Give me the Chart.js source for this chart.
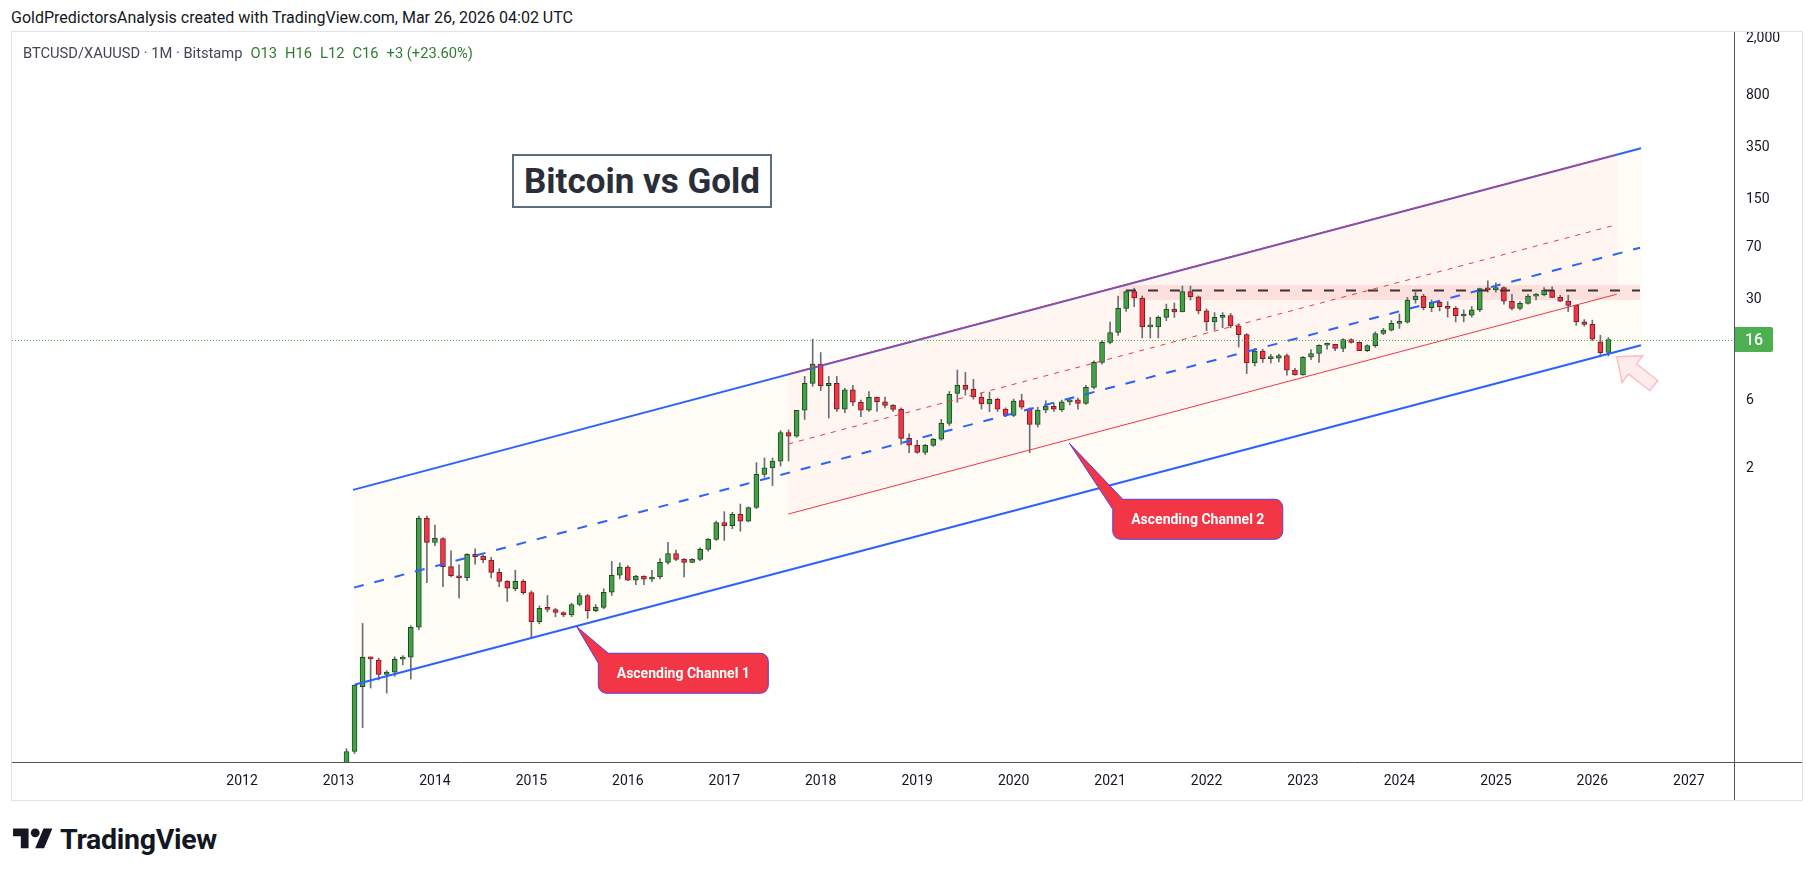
<!DOCTYPE html>
<html>
<head>
<meta charset="utf-8">
<title>Bitcoin vs Gold</title>
<script src="https://cdn.jsdelivr.net/npm/chart.js@4.4.1/dist/chart.umd.min.js"></script>
<style>
  html, body { margin:0; padding:0; background:#ffffff; }
  body { width:1814px; height:877px; position:relative; overflow:hidden; font-family: Roboto, "Liberation Sans", Arial, sans-serif; color:#131722; }
  #hdr { position:absolute; left:11px; top:7px; font-size:16px; line-height:22px; color:#131722; white-space:nowrap; }
  #frame { position:absolute; left:11px; top:31px; width:1792px; height:770px; box-sizing:border-box; border:1px solid #e0e3eb; }
  #wrap { position:absolute; left:12px; top:32px; width:1790px; height:768px; }
  #legend { position:absolute; left:23px; top:43px; font-size:14.7px; line-height:20px; white-space:nowrap; color:#434651; }
  #legend .v { color:#2e7d32; margin-left:8px; }
  #title { position:absolute; left:512px; top:154px; width:260px; height:54px; box-sizing:border-box; border:2px solid #5d6d7e; background:#fff; display:flex; align-items:center; justify-content:center; font-weight:bold; font-size:35px; color:#2a2e39; font-family: Roboto, "Liberation Sans", sans-serif; }
  #logo { position:absolute; left:13px; top:823px; height:32px; display:flex; align-items:center; }
  #logo span { font-weight:bold; font-size:28.5px; color:#131722; margin-left:7px; letter-spacing:-0.3px; }
</style>
</head>
<body>
<div id="hdr">GoldPredictorsAnalysis created with TradingView.com, Mar 26, 2026 04:02 UTC</div>
<div id="frame"></div>
<div id="wrap"><canvas id="c"></canvas></div>
<div id="legend"></div>
<div id="title">Bitcoin vs Gold</div>
<div id="logo"><svg width="40" height="31" viewBox="0 0 36 28"><path d="M14 22H7V11H0V4h14v18zM28 22h-8l7.5-18h8L28 22z" fill="#131722"/><circle cx="20" cy="8" r="4" fill="#131722"/></svg><span>TradingView</span></div>
<script>
// ---- Monthly BTCUSD/XAUUSD candles, Feb 2013 .. Mar 2026 ----
const firstMonth = '2013-02';
const open = [
  0.0129,0.0212,0.060,0.0964,0.0923,0.0733,0.0759,0.0933,0.0965,0.156,0.90,             // 2013
  0.611,0.65,0.413,0.357,0.345,0.504,0.49,0.46,0.377,0.326,0.29,0.326,                  // 2014
  0.272,0.171,0.212,0.207,0.198,0.19,0.225,0.26,0.204,0.215,0.274,0.36,                 // 2015
  0.41,0.332,0.355,0.338,0.35,0.443,0.51,0.465,0.443,0.465,0.546,0.641,                 // 2016
  0.84,0.80,0.96,0.86,1.07,1.82,2.02,2.25,3.56,3.37,5.1,7.85,                           // 2017
  10.7,7.56,7.85,5.2,7.07,5.8,5.1,6.27,5.85,5.52,5.18,3.25,                             // 2018
  2.90,2.59,2.90,3.2,4.13,6.69,7.61,7.13,6.28,5.64,6.08,5.2,                            // 2019
  4.70,5.95,5.2,4.06,5.12,5.44,5.12,5.83,6.02,5.70,7.37,11.0,                           // 2020
  15.2,17.8,26.2,34.3,31.0,19.5,19.5,22.7,25.8,24.8,34.3,31.6,                          // 2021
  25.2,21.1,22.7,23.4,19.8,17.2,10.9,13.2,11.7,11.8,12.3,9.73,                          // 2022
  9.0,11.95,12.7,14.5,14.7,13.8,15.9,15.2,13.3,14.4,17.5,18.5,                          // 2023
  20.6,21.0,30.0,32.0,26.5,28.9,27.0,26.2,23.2,23.5,25.6,36.1,                          // 2024
  35.3,36.6,29.4,26.2,28.4,31.9,32.6,35.2,31.3,29.5,27.5,21.1,                          // 2025
  20.3,15.3,12.9                                                                         // 2026
];
const high = [
  0.0222,0.062,0.166,0.097,0.095,0.0776,0.097,0.099,0.16,0.933,0.93,
  0.807,0.66,0.534,0.425,0.51,0.55,0.50,0.48,0.40,0.33,0.39,0.335,
  0.28,0.22,0.26,0.212,0.20,0.23,0.27,0.265,0.225,0.29,0.45,0.44,
  0.42,0.36,0.356,0.39,0.47,0.61,0.54,0.47,0.47,0.56,0.65,0.86,
  1.0,0.99,1.13,1.08,2.2,2.37,2.37,3.68,3.72,5.1,8.8,16.0,
  12.9,8.8,8.8,7.3,7.6,6.0,6.9,6.3,6.3,5.6,5.3,3.5,
  3.15,2.95,3.25,4.41,6.9,9.73,9.37,8.39,6.7,6.83,6.2,5.3,
  6.1,6.6,5.3,5.36,5.95,5.7,6.0,6.2,6.2,7.6,11.3,15.6,
  21.0,32.0,34.8,36.3,32.0,22.7,23.2,28.1,28.6,37.5,37.5,32.0,
  26.0,24.5,24.5,24.2,20.5,17.5,13.8,13.6,12.5,12.6,12.6,10.0,
  12.1,13.5,14.6,15.0,14.7,16.1,16.1,15.3,14.6,18.0,19.0,21.6,
  24.0,31.3,34.0,32.9,30.0,29.7,29.2,27.0,25.6,27.0,36.3,40.8,
  39.5,37.1,32.9,29.2,32.8,33.4,36.6,37.1,32.4,32.4,27.6,21.9,
  21.7,17.0,16.4
];
const low = [
  0.0125,0.0205,0.0311,0.0588,0.0669,0.0542,0.071,0.0853,0.068,0.15,0.319,
  0.58,0.30,0.35,0.25,0.33,0.43,0.44,0.345,0.30,0.236,0.28,0.265,
  0.131,0.165,0.20,0.185,0.185,0.185,0.22,0.18,0.20,0.21,0.26,0.34,
  0.33,0.31,0.31,0.325,0.34,0.43,0.455,0.35,0.44,0.455,0.53,0.63,
  0.63,0.76,0.73,0.85,1.05,1.74,1.52,2.08,2.26,3.3,4.4,7.5,
  7.0,4.5,5.0,4.9,5.5,4.6,5.0,5.0,5.3,5.0,2.95,2.58,
  2.55,2.5,2.85,3.15,4.0,5.8,6.5,6.1,5.2,4.99,5.0,4.6,
  4.6,5.2,2.58,3.9,4.9,5.0,5.0,5.55,5.2,5.6,7.2,10.7,
  14.8,17.0,25.0,27.0,16.3,16.3,16.3,21.5,22.7,24.8,30.0,24.0,
  18.3,18.5,19.2,19.2,14.1,9.2,10.4,11.0,10.9,11.1,8.97,8.97,
  8.97,11.5,11.0,13.6,13.3,13.1,15.0,13.3,13.1,14.0,17.2,18.2,
  19.0,20.7,28.5,25.6,24.9,25.2,22.8,21.1,21.1,22.8,24.9,34.0,
  34.0,28.0,25.6,25.6,28.0,30.0,32.0,31.2,29.2,24.9,20.0,19.7,
  15.6,12.3,12.2
];
const close = [
  0.0212,0.0617,0.0964,0.094,0.0733,0.0759,0.0933,0.0965,0.156,0.899,0.611,
  0.651,0.413,0.357,0.345,0.504,0.485,0.46,0.377,0.326,0.292,0.326,0.272,
  0.171,0.212,0.208,0.198,0.19,0.225,0.26,0.204,0.215,0.274,0.36,0.41,
  0.332,0.355,0.338,0.35,0.443,0.51,0.465,0.443,0.465,0.546,0.641,0.84,
  0.80,0.96,0.86,1.07,1.82,2.02,2.25,3.56,3.37,5.1,7.85,10.7,
  7.56,7.85,5.2,7.07,5.8,5.1,6.27,5.85,5.52,5.18,3.25,2.91,
  2.59,2.90,3.2,4.13,6.58,7.61,7.13,6.31,5.64,6.08,5.2,4.70,
  5.92,5.36,4.06,5.12,5.46,5.20,5.83,5.92,5.70,7.37,11.0,15.2,
  17.8,26.2,34.3,31.0,19.5,19.6,22.7,25.8,24.8,34.3,31.6,25.2,
  21.1,22.7,23.4,19.8,17.2,10.9,13.2,11.7,11.8,12.3,9.73,9.0,
  11.95,12.7,14.5,14.7,13.8,15.9,15.2,13.3,14.4,17.5,18.5,20.6,
  21.0,30.0,32.0,26.5,28.9,27.0,26.2,23.3,23.5,25.6,36.1,35.3,
  36.6,29.4,26.2,28.4,31.9,32.6,35.2,31.3,29.5,27.5,21.1,20.3,
  16.0,12.85,15.883
];

// ---- axis ticks ----
const yearTicks  = [2012,2013,2014,2015,2016,2017,2018,2019,2020,2021,2022,2023,2024,2025,2026,2027];
const priceTicks = [2, 6, 30, 70, 150, 350, 800, 2000];

// ---- drawings: [decimal year, price] endpoints ----
const channel1Upper = [[2013.151, 1.42], [2026.505, 344]];
const channel1Mid   = [[2013.161, 0.295], [2026.495, 69.5]];
const channel1Lower = [[2013.172, 0.0622], [2026.505, 14.5]];
const channel2Upper = [[2017.664, 9.15], [2026.253, 310.5]];
const channel2Mid   = [[2017.664, 2.97], [2026.201, 98.5]];
const channel2Lower = [[2017.664, 0.963], [2026.253, 32.9]];
const resistanceLine = [[2021.165, 35.0], [2026.495, 35.0]];
const resistanceZone = { x0: 2021.093, x1: 2026.495, lo: 30.0, hi: 38.2 };
const callouts = [
  { text: 'Ascending Channel 1', x: 2015.470, y: 0.1576, dx: 21.6, dy: 26.6 },
  { text: 'Ascending Channel 2', x: 2020.578, y: 3.0,    dx: 43.4, dy: 56.0 }
];
const arrowTip = { x: 2026.253, y: 12.06 };

// ---- build months (x positions) ----
const months = [];
(function(){ let [y, m] = firstMonth.split('-').map(Number);
  for (let i = 0; i < open.length; i++) { months.push(y + (m - 1) / 12); m++; if (m > 12) { m = 1; y++; } } })();

const n = open.length;
const last = n - 1;
const up = close.map((c, i) => c >= open[i]);

// legend
(function(){
  const r = v => Math.round(v);
  const chg = close[last] - close[last - 1];
  const pct = (close[last] / close[last - 1] - 1) * 100;
  document.getElementById('legend').innerHTML =
    'BTCUSD/XAUUSD · 1M · Bitstamp' +
    '<span class="v">O' + r(open[last]) + '</span>' +
    '<span class="v">H' + r(high[last]) + '</span>' +
    '<span class="v">L' + r(low[last]) + '</span>' +
    '<span class="v">C' + r(close[last]) + '</span>' +
    '<span class="v">' + (chg >= 0 ? '+' : '') + r(chg) + ' (' + (pct >= 0 ? '+' : '') + pct.toFixed(2) + '%)</span>';
})();

const GREEN = '#43a047', GREEN_B = '#1b4d20', RED = '#f23645', RED_B = '#7a1c22', WICK = '#6b6e76';
const FONT = 'Roboto, "Liberation Sans", Arial, sans-serif';

const toPts = arr => arr.map(p => ({ x: p[0], y: p[1] }));
const lineDs = (arr, color, width, dash, order) => ({
  type: 'line', data: toPts(arr), borderColor: color, borderWidth: width, borderDash: dash || [],
  pointRadius: 0, pointHoverRadius: 0, fill: false, tension: 0, order: order
});

const overlay = {
  id: 'overlay',
  beforeDatasetsDraw(chart) {
    const { ctx, chartArea: a, scales: { x, y } } = chart;
    const P = p => [x.getPixelForValue(p[0]), y.getPixelForValue(p[1])];
    ctx.save();
    ctx.beginPath(); ctx.rect(a.left, a.top, a.right - a.left, a.bottom - a.top); ctx.clip();
    const poly = (u, l, color) => {
      const pts = [P(u[0]), P(u[1]), P(l[1]), P(l[0])];
      ctx.beginPath(); ctx.moveTo(pts[0][0], pts[0][1]);
      for (let i = 1; i < 4; i++) ctx.lineTo(pts[i][0], pts[i][1]);
      ctx.closePath(); ctx.fillStyle = color; ctx.fill();
    };
    poly(channel1Upper, channel1Lower, 'rgba(255,152,0,0.04)');
    poly(channel2Upper, channel2Lower, 'rgba(242,54,69,0.025)');
    const zx0 = x.getPixelForValue(resistanceZone.x0), zx1 = x.getPixelForValue(resistanceZone.x1);
    const zy0 = y.getPixelForValue(resistanceZone.hi), zy1 = y.getPixelForValue(resistanceZone.lo);
    ctx.fillStyle = 'rgba(242,54,69,0.12)';
    ctx.fillRect(zx0, zy0, zx1 - zx0, zy1 - zy0);
    ctx.restore();
  },
  afterDatasetsDraw(chart) {
    const { ctx, chartArea: a, scales: { x, y } } = chart;
    ctx.save();
    // last price dotted line
    const py = Math.round(y.getPixelForValue(close[last])) + 0.5;
    ctx.strokeStyle = up[last] ? '#4caf50' : RED; ctx.lineWidth = 1; ctx.setLineDash([1, 2]);
    ctx.beginPath(); ctx.moveTo(a.left, py); ctx.lineTo(a.right, py); ctx.stroke();
    ctx.setLineDash([]);
    // arrow
    const tx = x.getPixelForValue(arrowTip.x), ty = y.getPixelForValue(arrowTip.y);
    const ang = 38 * Math.PI / 180, ca = Math.cos(ang), sa = Math.sin(ang);
    const loc = [[0,0],[20,17],[20,6.5],[47,6.5],[47,-6.5],[20,-6.5],[20,-17]];
    ctx.beginPath();
    loc.forEach((q, i) => { const px = tx + q[0]*ca - q[1]*sa, pyy = ty + q[0]*sa + q[1]*ca; i ? ctx.lineTo(px, pyy) : ctx.moveTo(px, pyy); });
    ctx.closePath();
    ctx.fillStyle = 'rgba(242,54,69,0.10)'; ctx.fill();
    ctx.strokeStyle = 'rgba(242,54,69,0.28)'; ctx.lineWidth = 1.5; ctx.stroke();
    // callouts
    callouts.forEach(c => {
      const cx = x.getPixelForValue(c.x), cy = y.getPixelForValue(c.y);
      const L = cx + c.dx, T = cy + c.dy, W = 170, H = 40, R = L + W, B = T + H, r = 8, b = 10;
      ctx.beginPath();
      ctx.moveTo(cx, cy);
      ctx.lineTo(L, T + b);
      ctx.lineTo(L, B - r); ctx.arcTo(L, B, L + r, B, r);
      ctx.lineTo(R - r, B); ctx.arcTo(R, B, R, B - r, r);
      ctx.lineTo(R, T + r); ctx.arcTo(R, T, R - r, T, r);
      ctx.lineTo(L + b, T);
      ctx.closePath();
      ctx.fillStyle = '#f23645'; ctx.fill();
      ctx.strokeStyle = '#5a3fd6'; ctx.lineWidth = 1; ctx.stroke();
      ctx.fillStyle = '#ffffff'; ctx.font = 'bold 14px ' + FONT;
      ctx.textAlign = 'center'; ctx.textBaseline = 'middle';
      ctx.fillText(c.text, L + W / 2, T + H / 2 + 1);
    });
    ctx.restore();
  },
  afterDraw(chart) {
    const { ctx, chartArea: a, scales: { y } } = chart;
    ctx.save();
    ctx.strokeStyle = '#50535e'; ctx.lineWidth = 1;
    ctx.beginPath();
    ctx.moveTo(Math.round(a.right) + 0.5, 0); ctx.lineTo(Math.round(a.right) + 0.5, chart.height);
    ctx.moveTo(0, Math.round(a.bottom) + 0.5); ctx.lineTo(chart.width, Math.round(a.bottom) + 0.5);
    ctx.stroke();
    // last price label
    const py = y.getPixelForValue(close[last]);
    ctx.fillStyle = up[last] ? '#4caf50' : RED;
    ctx.beginPath();
    if (ctx.roundRect) ctx.roundRect(a.right + 1, py - 12.5, 38, 25, [0, 2, 2, 0]); else ctx.rect(a.right + 1, py - 12.5, 38, 25);
    ctx.fill();
    ctx.fillStyle = '#ffffff'; ctx.font = '500 16px ' + FONT; ctx.textAlign = 'left'; ctx.textBaseline = 'middle';
    ctx.fillText(String(Math.round(close[last])), a.right + 11, py + 1);
    ctx.restore();
  }
};

new Chart(document.getElementById('c'), {
  type: 'bar',
  data: {
    datasets: [
      lineDs(channel1Upper, '#2962ff', 2, null, 0),
      lineDs(channel1Mid, '#2962ff', 2, [10, 11], 0),
      lineDs(channel1Lower, '#2962ff', 2, null, 0),
      lineDs(channel2Upper, '#f23645', 1, null, -1),
      lineDs(channel2Mid, '#f23645', 1, [5, 6], -1),
      lineDs(channel2Lower, '#f23645', 1, null, -1),
      lineDs(resistanceLine, '#3a3436', 2, [10, 12], -1),
      {
        type: 'bar', label: 'wick', order: 2, grouped: false,
        data: months.map((m, i) => ({ x: m, y: [low[i], high[i]] })),
        backgroundColor: WICK, barThickness: 1, minBarLength: 1, borderWidth: 0
      },
      {
        type: 'bar', label: 'body', order: 1, grouped: false,
        data: months.map((m, i) => ({ x: m, y: [open[i], close[i]] })),
        backgroundColor: up.map(u => u ? GREEN : RED),
        borderColor: up.map(u => u ? GREEN_B : RED_B),
        borderWidth: 1, borderSkipped: false, barThickness: 5, minBarLength: 2
      }
    ]
  },
  options: {
    responsive: true, maintainAspectRatio: false, animation: false, devicePixelRatio: 1,
    layout: { padding: 0 },
    plugins: { legend: { display: false }, tooltip: { enabled: false } },
    events: [],
    scales: {
      x: {
        type: 'linear', min: 2009.615, max: 2027.469, offset: false,
        grid: { display: false, drawTicks: false }, border: { display: false },
        ticks: { autoSkip: false, maxRotation: 0, padding: 11, color: '#131722', font: { size: 14, family: FONT },
                 callback: v => String(v) },
        afterBuildTicks: s => { s.ticks = yearTicks.map(v => ({ value: v })); },
        afterFit: s => { s.height = 38; s.paddingLeft = 0; s.paddingRight = 0; }
      },
      y: {
        type: 'logarithmic', position: 'right', min: 0.01791, max: 2225,
        grid: { display: false, drawTicks: false }, border: { display: false },
        ticks: { padding: 12, color: '#131722', font: { size: 14, family: FONT }, autoSkip: false,
                 callback: v => Number(v).toLocaleString('en-US') },
        afterBuildTicks: s => { s.ticks = priceTicks.map(v => ({ value: v })); },
        afterFit: s => { s.width = 68; s.paddingTop = 0; s.paddingBottom = 0; }
      }
    }
  },
  plugins: [overlay]
});
</script>
</body>
</html>
